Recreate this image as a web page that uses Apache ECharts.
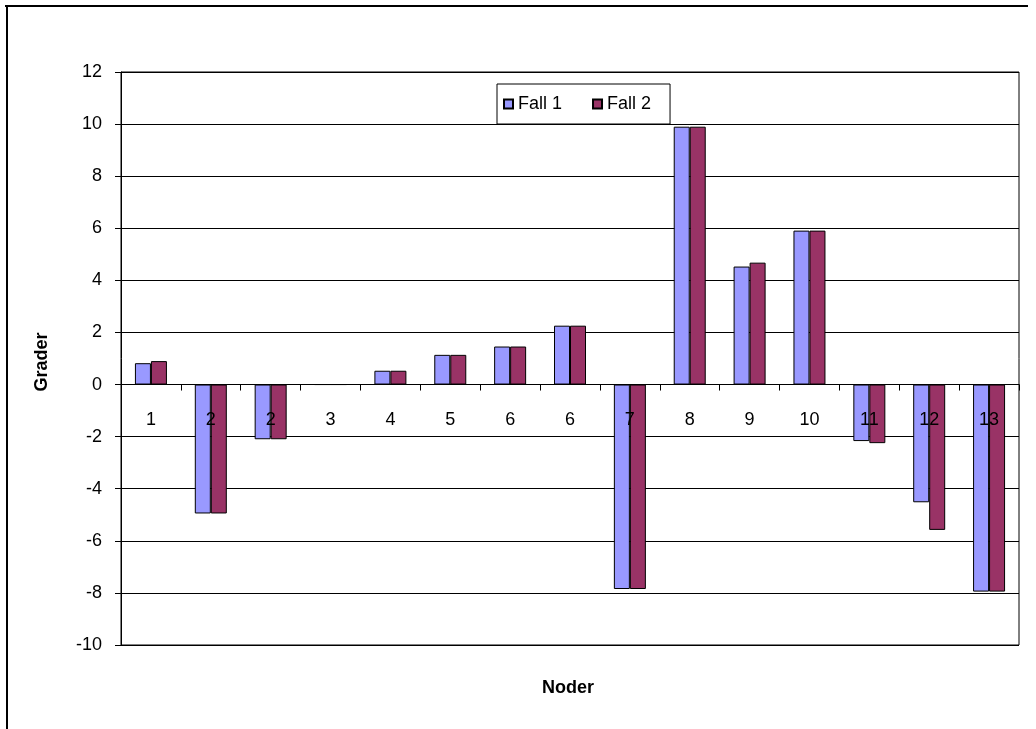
<!DOCTYPE html>
<html>
<head>
<meta charset="utf-8">
<title>Grader per nod</title>
<script src="https://cdn.jsdelivr.net/npm/echarts@6/dist/echarts.min.js"></script>
<style>
  html, body { margin: 0; padding: 0; background: #fff; }
  #chart { width: 1036px; height: 729px; }
</style>
</head>
<body>
<div id="chart"></div>
<script>
// Node labels along the horizontal axis
const noder = ['1', '2', '2', '3', '4', '5', '6', '6', '7', '8', '9', '10', '11', '12', '13'];

// Angle values (grader) for each case
const fall1 = [0.82, -4.95, -2.1, 0, 0.53, 1.14, 1.46, 2.26, -7.85, 9.9, 4.53, 5.91, -2.17, -4.52, -7.95];
const fall2 = [0.9, -4.95, -2.1, 0, 0.53, 1.14, 1.46, 2.26, -7.85, 9.9, 4.68, 5.91, -2.25, -5.58, -7.95];

const serieNamn = ['Fall 1', 'Fall 2'];
const yMin = -10, yMax = 12, yStep = 2;

const font = 'Arial, "Liberation Sans", sans-serif';
const W = 1036, H = 729;
const plot = { left: 121, right: 17, top: 72, bottom: 84 };
const plotHeight = H - plot.top - plot.bottom;
// the category axis sits on the value 0, measured up from the bottom of the plot
const zeroOffset = -plotHeight * (0 - yMin) / (yMax - yMin);

const chart = echarts.init(document.getElementById('chart'), null, { renderer: 'canvas' });

chart.setOption({
  animation: false,
  backgroundColor: '#ffffff',
  textStyle: { fontFamily: font },
  grid: {
    left: plot.left, right: plot.right, top: plot.top, bottom: plot.bottom,
    show: true, borderColor: '#000', borderWidth: 1, backgroundColor: 'transparent'
  },
  legend: {
    data: serieNamn,
    left: 497, top: 84,
    orient: 'horizontal',
    icon: 'rect',
    itemWidth: 9, itemHeight: 9, itemGap: 30,
    padding: [11, 19, 11, 6],
    backgroundColor: '#fff',
    borderColor: '#000', borderWidth: 1,
    textStyle: { fontFamily: font, fontSize: 18, color: '#000' }
  },
  xAxis: {
    type: 'category',
    data: noder,
    z: 5,
    offset: zeroOffset,
    axisLine: { onZero: false, lineStyle: { color: '#000', width: 1 } },
    axisTick: { show: true, alignWithLabel: false, length: 6, lineStyle: { color: '#000' } },
    axisLabel: { color: '#000', fontSize: 18, fontFamily: font, margin: 26, interval: 0 },
    splitLine: { show: false }
  },
  yAxis: {
    type: 'value',
    min: yMin, max: yMax, interval: yStep,
    axisLine: { show: true, lineStyle: { color: '#000', width: 1 } },
    axisTick: { show: true, length: 6, lineStyle: { color: '#000' } },
    axisLabel: { color: '#000', fontSize: 18, fontFamily: font, margin: 19 },
    splitLine: { show: true, lineStyle: { color: '#000', width: 1 } }
  },
  series: [
    {
      name: serieNamn[0], type: 'bar', data: fall1,
      barWidth: 16, barGap: '0%',
      itemStyle: { color: '#9999ff', borderColor: '#000', borderWidth: 1 }
    },
    {
      name: serieNamn[1], type: 'bar', data: fall2,
      barWidth: 16, barGap: '0%',
      itemStyle: { color: '#993366', borderColor: '#000', borderWidth: 1 }
    }
  ],
  graphic: [
    // outer frame (top and left edges)
    { type: 'line', shape: { x1: 5, y1: 6, x2: 1028, y2: 6 }, style: { stroke: '#000', lineWidth: 2 } },
    { type: 'line', shape: { x1: 7, y1: 6, x2: 7, y2: H }, style: { stroke: '#000', lineWidth: 2 } },
    // axis titles
    {
      type: 'text', x: 42, y: 362, rotation: Math.PI / 2,
      style: { text: 'Grader', font: 'bold 18px ' + font, fill: '#000', align: 'center', verticalAlign: 'middle' }
    },
    {
      type: 'text', x: 568, y: 688,
      style: { text: 'Noder', font: 'bold 18px ' + font, fill: '#000', align: 'center', verticalAlign: 'middle' }
    }
  ]
});
</script>
</body>
</html>
